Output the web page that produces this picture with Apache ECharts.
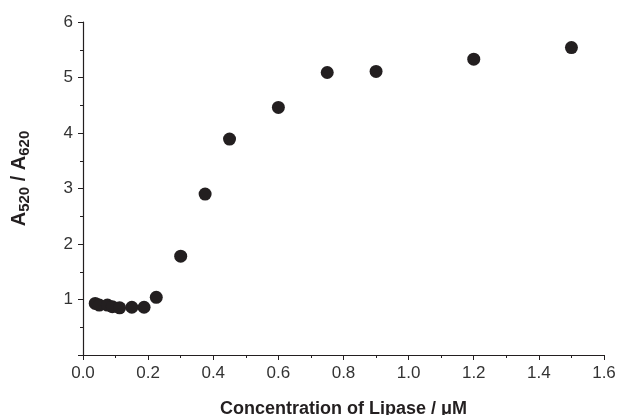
<!DOCTYPE html>
<html><head><meta charset="utf-8">
<script src="https://cdn.jsdelivr.net/npm/echarts@6/dist/echarts.min.js"></script>
<style>html,body{margin:0;padding:0;background:#fff}#c{width:619px;height:415px}</style>
</head><body><div id="c"></div>
<script>
const concentration = [0.0375, 0.05, 0.075, 0.09, 0.1125, 0.15, 0.1875, 0.225, 0.3, 0.375, 0.45, 0.6, 0.75, 0.9, 1.2, 1.5];
const ratio = [0.93, 0.90, 0.90, 0.87, 0.85, 0.86, 0.86, 1.04, 1.78, 2.90, 3.89, 4.46, 5.09, 5.11, 5.33, 5.54];
const xTicks = ['0.0','0.2','0.4','0.6','0.8','1.0','1.2','1.4','1.6'];
const yTicks = ['', '1', '2', '3', '4', '5', '6'];

const chart = echarts.init(document.getElementById('c'));
const font = 'Liberation Sans, Arial, sans-serif';
chart.setOption({
  animation: false,
  grid: {left: 83, right: 15, top: 22, bottom: 60, containLabel: false, outerBoundsMode: 'none'},
  xAxis: {
    type: 'value', min: 0, max: 1.6, interval: 0.2,
    axisLine: {lineStyle: {color: '#231f20', width: 1.2}},
    axisTick: {length: 5, lineStyle: {color: '#231f20'}},
    minorTick: {show: true, splitNumber: 2, length: 3, lineStyle: {color: '#231f20'}},
    splitLine: {show: false},
    axisLabel: {color: '#333', fontSize: 17, fontFamily: font, margin: 10,
      formatter: v => xTicks[Math.round(v / 0.2)]},
    name: 'Concentration of Lipase / μM', nameLocation: 'middle', nameGap: 45,
    nameTextStyle: {color: '#231f20', fontSize: 18, fontWeight: 'bold', fontFamily: font}
  },
  yAxis: {
    type: 'value', min: 0, max: 6, interval: 1,
    axisLine: {show: true, lineStyle: {color: '#231f20', width: 1.2}},
    axisTick: {show: true, length: 5, lineStyle: {color: '#231f20'}},
    minorTick: {show: true, splitNumber: 2, length: 3, lineStyle: {color: '#231f20'}},
    splitLine: {show: false},
    axisLabel: {color: '#333', fontSize: 17, fontFamily: font, margin: 10,
      formatter: v => yTicks[Math.round(v)]},
    name: '{a|A}{s|520}{a| / A}{s|620}', nameLocation: 'middle', nameGap: 51, nameRotate: 90,
    nameTextStyle: {
      padding: [0, 0, 0, 20],
      rich: {
        a: {color: '#231f20', fontSize: 20, fontWeight: 'bold', fontFamily: font},
        s: {color: '#231f20', fontSize: 15, fontWeight: 'bold', fontFamily: font, padding: [10, 0, 0, 0]}
      }
    }
  },
  series: [{
    type: 'scatter',
    data: concentration.map((c, i) => [c, ratio[i]]),
    symbolSize: 13,
    itemStyle: {color: '#231f20', opacity: 1}
  }]
});
</script></body></html>
